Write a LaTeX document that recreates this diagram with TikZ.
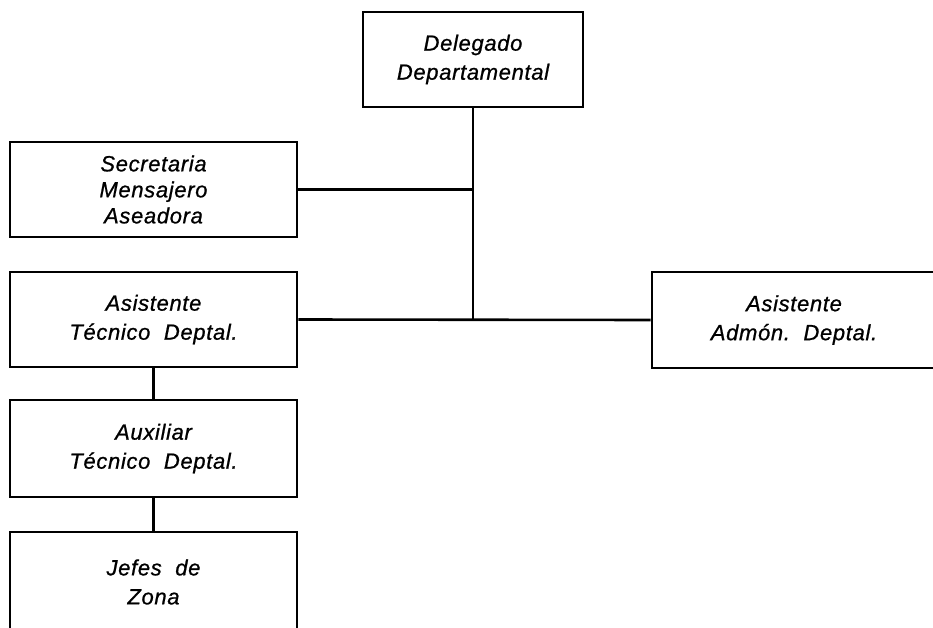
\documentclass[tikz,border=0pt]{standalone}
\usepackage{fontspec}
\setmainfont{Liberation Sans}[LetterSpace=3,ItalicFeatures={FakeBold=0.8}]
\begin{document}
\begin{tikzpicture}[x=1pt,y=-1pt,
  box/.style={draw,line width=2.6pt,inner sep=0pt,align=center,
    font=\itshape\fontsize{22}{29}\selectfont},
  conn/.style={line width=2.6pt}]
\useasboundingbox (0,0) rectangle (933,628);
\clip (0,0) rectangle (933,628);
\fill[white] (0,0) rectangle (933,628);
\node[box,minimum width=220pt,minimum height=95pt] (del) at (473,59.5) {Delegado\\Departamental};
\node[box,minimum width=287pt,minimum height=95pt,font=\itshape\fontsize{22}{26}\selectfont] (sec) at (153.5,189.5) {Secretaria\\Mensajero\\Aseadora};
\node[box,minimum width=287pt,minimum height=95pt] (ast) at (153.5,319.5) {Asistente\\Técnico\ \ Deptal.};
\node[box,minimum width=287pt,minimum height=97pt] (aux) at (153.5,448.5) {Auxiliar\\Técnico\ \ Deptal.};
\node[box,minimum width=287pt,minimum height=100pt] (jef) at (153.5,582) {Jefes\ \ de\\Zona};
\node[box,minimum width=284pt,minimum height=96pt] (adm) at (794,320) {Asistente\\Admón.\ \ Deptal.};
\draw[conn] (del.south) -- (del.south |- ast.east);
\draw[conn] (sec.east) -- (sec.east -| del.south);
\draw[conn] (ast.east) -- (adm.west);
\draw[conn] (ast.south) -- (aux.north);
\draw[conn] (aux.south) -- (jef.north);
\end{tikzpicture}
\end{document}
